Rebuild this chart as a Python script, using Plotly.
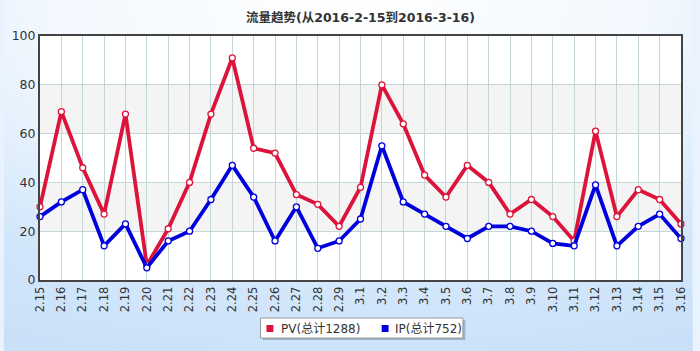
import plotly.graph_objects as go

categories = ["2.15","2.16","2.17","2.18","2.19","2.20","2.21","2.22","2.23","2.24",
              "2.25","2.26","2.27","2.28","2.29","3.1","3.2","3.3","3.4","3.5",
              "3.6","3.7","3.8","3.9","3.10","3.11","3.12","3.13","3.14","3.15","3.16"]
pv = [30,69,46,27,68,6,21,40,68,91,54,52,35,31,22,38,80,64,43,34,47,40,27,33,26,16,61,26,37,33,23]
ip = [26,32,37,14,23,5,16,20,33,47,34,16,30,13,16,25,55,32,27,22,17,22,22,20,15,14,39,14,22,27,17]
pv_name = "PV(总计1288)"
ip_name = "IP(总计752)"
title_text = "流量趋势(从2016-2-15到2016-3-16)"
yticks = [0,20,40,60,80,100]

FONT = "DejaVu Sans, Noto Sans CJK SC, sans-serif"
PV_COLOR = "#dc143c"
IP_COLOR = "#0000dd"

# plot area geometry in pixels
L, R, T, B = 37, 688, 36, 280
PW, PH = R - L, B - T


def px(xp):
    return (xp - L) / PW


def py(yp):
    return (B - yp) / PH


x = list(range(len(categories)))

fig = go.Figure()

for vals, col in [(pv, PV_COLOR), (ip, IP_COLOR)]:
    fig.add_trace(go.Scatter(
        x=x, y=vals, mode="lines+markers", showlegend=False, hoverinfo="y",
        line=dict(color=col, width=3.8),
        marker=dict(symbol="circle", size=6, color="white", line=dict(color=col, width=1.3)),
        cliponaxis=False))

svg = ("data:image/svg+xml;utf8,"
       "<svg xmlns='http://www.w3.org/2000/svg' width='700' height='351'>"
       "<defs><radialGradient id='g' cx='50%' cy='0%' r='110%' fx='50%' fy='0%'>"
       "<stop offset='0%' stop-color='%23ffffff'/>"
       "<stop offset='40%' stop-color='%23f2f8fe'/>"
       "<stop offset='75%' stop-color='%23d3e7fb'/>"
       "<stop offset='100%' stop-color='%23c8e0f8'/>"
       "</radialGradient></defs>"
       "<rect width='700' height='351' fill='url(%23g)'/></svg>")

shapes = [dict(type="rect", xref="paper", yref="paper", x0=0, x1=1, y0=0, y1=1,
               fillcolor="white", line=dict(width=0), layer="below")]
for lo, hi in [(20, 40), (60, 80)]:
    shapes.append(dict(type="rect", xref="paper", yref="y", x0=0, x1=1, y0=lo, y1=hi,
                       fillcolor="#f4f4f4", line=dict(width=0), layer="below"))

# custom legend: shadow, box, swatches
shapes.append(dict(type="rect", xref="paper", yref="paper",
                   x0=px(263), x1=px(469), y0=py(340), y1=py(320),
                   fillcolor="rgba(0,0,0,0.22)", line=dict(width=0), layer="above"))
shapes.append(dict(type="rect", xref="paper", yref="paper",
                   x0=px(261), x1=px(466.5), y0=py(338), y1=py(318),
                   fillcolor="white", line=dict(width=1, color="#999999"), layer="above"))
annotations = []
for name, col, sx, tx in [(pv_name, PV_COLOR, 267, 280), (ip_name, IP_COLOR, 384, 395)]:
    shapes.append(dict(type="rect", xref="paper", yref="paper",
                       x0=px(sx), x1=px(sx + 7), y0=py(332), y1=py(325),
                       fillcolor=col, line=dict(width=0), layer="above"))
    annotations.append(dict(text=name, xref="paper", yref="paper", x=px(tx), y=py(328.5),
                            xanchor="left", yanchor="middle", showarrow=False,
                            font=dict(size=12, color="#333333")))

fig.update_layout(
    width=700, height=351,
    margin=dict(l=L, r=700 - R, t=T, b=351 - B),
    paper_bgcolor="#eaf3fd",
    plot_bgcolor="rgba(0,0,0,0)",
    font=dict(family=FONT, color="#333333", size=12),
    title=dict(text="<b>" + title_text + "</b>", x=0.515, xanchor="center", y=0.95,
               yanchor="middle", font=dict(size=12.5, color="#333333")),
    showlegend=False,
    shapes=shapes,
    annotations=annotations,
    images=[dict(source=svg, xref="paper", yref="paper", x=px(0), y=py(0),
                 sizex=700 / PW, sizey=351 / PH, sizing="stretch", xanchor="left",
                 yanchor="top", layer="below")],
    hovermode="closest",
)

fig.update_xaxes(
    tickmode="array", tickvals=x, ticktext=categories, tickangle=-90,
    range=[0, len(categories) - 1], showgrid=True, gridcolor="#c5d6d6", gridwidth=1,
    showline=True, linecolor="#444444", linewidth=2, mirror=True,
    ticks="", tickfont=dict(size=11.5, color="#333333"), zeroline=False,
)
fig.update_yaxes(
    range=[0, 100], tickvals=yticks, showgrid=True, gridcolor="#c5d6d6", gridwidth=1,
    showline=True, linecolor="#444444", linewidth=2, mirror=True,
    ticks="", tickfont=dict(size=12.5, color="#333333"), zeroline=False,
)

fig.write_html("out.html")
